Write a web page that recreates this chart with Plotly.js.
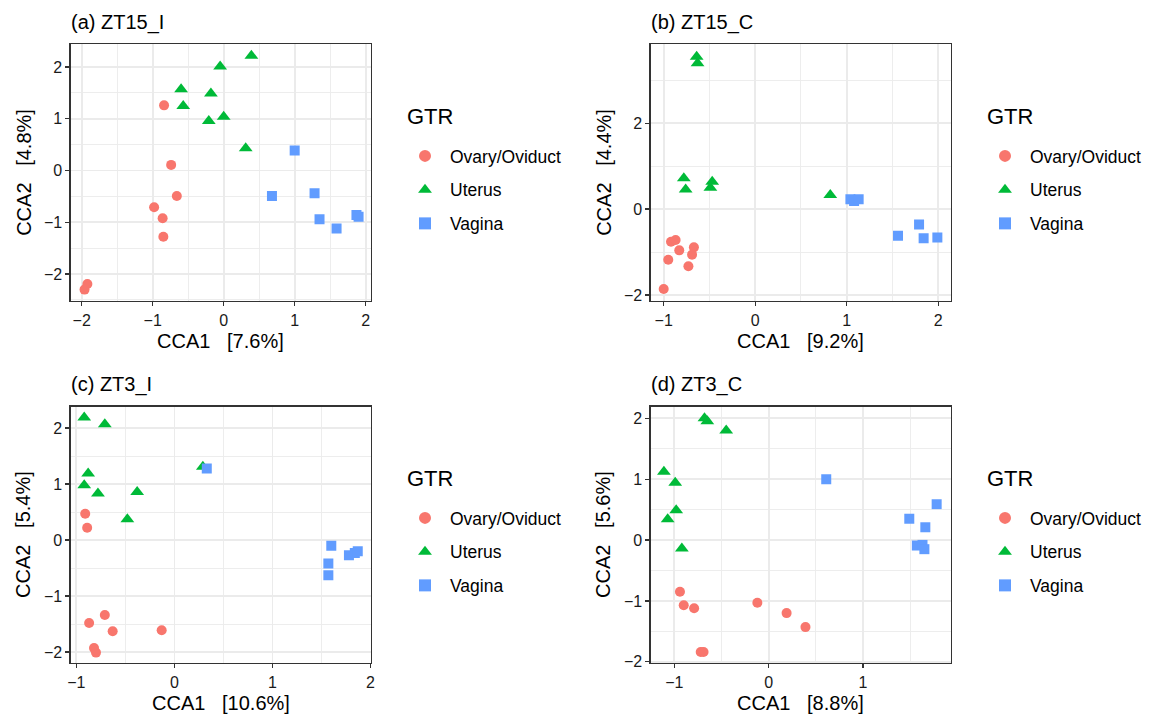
<!DOCTYPE html>
<html>
<head>
<meta charset="utf-8">
<script src="https://cdn.plot.ly/plotly-3.0.1.min.js"></script>
<style>
  html, body { margin: 0; padding: 0; background: #ffffff; }
  #chart { width: 1149px; height: 716px; }
</style>
</head>
<body>
<div id="chart"></div>
<script>
// Group labels shared by all four ordinations
const groups = ['Ovary/Oviduct', 'Uterus', 'Vagina'];
const legendTitle = 'GTR';

// Panel titles and axis labels
const panelTitles = ['(a) ZT15_I', '(b) ZT15_C', '(c) ZT3_I', '(d) ZT3_C'];
const xLabels = ['CCA1   [7.6%]', 'CCA1   [9.2%]', 'CCA1   [10.6%]', 'CCA1   [8.8%]'];
const yLabels = ['CCA2   [4.8%]', 'CCA2   [4.4%]', 'CCA2   [5.4%]', 'CCA2   [5.6%]'];

// (a) ZT15_I
const a_ovary_x  = [-0.84, -0.74, -0.66, -0.98, -0.86, -0.85, -1.92, -1.96];
const a_ovary_y  = [1.26, 0.11, -0.49, -0.71, -0.92, -1.28, -2.19, -2.30];
const a_uterus_x = [0.39, -0.05, -0.60, -0.18, -0.57, -0.21, 0.00, 0.31];
const a_uterus_y = [2.22, 2.01, 1.57, 1.49, 1.25, 0.96, 1.04, 0.43];
const a_vagina_x = [1.00, 0.68, 1.28, 1.35, 1.59, 1.87, 1.90];
const a_vagina_y = [0.39, -0.49, -0.44, -0.94, -1.12, -0.86, -0.89];

// (b) ZT15_C
const b_ovary_x  = [-1.00, -0.95, -0.92, -0.87, -0.83, -0.67, -0.69, -0.73];
const b_ovary_y  = [-1.86, -1.18, -0.76, -0.72, -0.96, -0.89, -1.06, -1.33];
const b_uterus_x = [-0.64, -0.63, -0.78, -0.76, -0.47, -0.49, 0.82];
const b_uterus_y = [3.55, 3.40, 0.72, 0.46, 0.64, 0.50, 0.33];
const b_vagina_x = [1.04, 1.08, 1.13, 1.56, 1.79, 1.84, 1.99];
const b_vagina_y = [0.23, 0.19, 0.23, -0.62, -0.36, -0.68, -0.66];

// (c) ZT3_I
const c_ovary_x  = [-0.91, -0.89, -0.71, -0.87, -0.63, -0.13, -0.82, -0.80];
const c_ovary_y  = [0.47, 0.22, -1.34, -1.48, -1.63, -1.61, -1.93, -2.01];
const c_uterus_x = [-0.92, -0.71, -0.88, -0.92, -0.78, -0.38, -0.48, 0.29];
const c_uterus_y = [2.19, 2.07, 1.19, 0.98, 0.83, 0.86, 0.37, 1.31];
const c_vagina_x = [0.33, 1.60, 1.57, 1.57, 1.78, 1.84, 1.87];
const c_vagina_y = [1.28, -0.10, -0.42, -0.63, -0.27, -0.23, -0.20];

// (d) ZT3_C
const d_ovary_x  = [-0.94, -0.90, -0.79, -0.12, 0.19, 0.39, -0.72, -0.69];
const d_ovary_y  = [-0.85, -1.07, -1.12, -1.03, -1.20, -1.43, -1.84, -1.84];
const d_uterus_x = [-0.68, -0.65, -0.45, -1.11, -0.99, -0.98, -1.07, -0.92];
const d_uterus_y = [2.00, 1.95, 1.80, 1.12, 0.94, 0.49, 0.34, -0.14];
const d_vagina_x = [0.61, 1.49, 1.78, 1.66, 1.57, 1.63, 1.65];
const d_vagina_y = [1.00, 0.35, 0.59, 0.21, -0.09, -0.08, -0.15];

const panelData = [
  [[a_ovary_x, a_ovary_y], [a_uterus_x, a_uterus_y], [a_vagina_x, a_vagina_y]],
  [[b_ovary_x, b_ovary_y], [b_uterus_x, b_uterus_y], [b_vagina_x, b_vagina_y]],
  [[c_ovary_x, c_ovary_y], [c_uterus_x, c_uterus_y], [c_vagina_x, c_vagina_y]],
  [[d_ovary_x, d_ovary_y], [d_uterus_x, d_uterus_y], [d_vagina_x, d_vagina_y]]
];

// ---- styling ----
const W = 1149, H = 716;
const FONT = 'Liberation Sans, Arial, Helvetica, sans-serif';
const groupStyle = [
  { color: '#F8766D', symbol: 'circle', size: 10 },
  { color: '#00BA38', symbol: 'triangle-up', size: 12 },
  { color: '#619CFF', symbol: 'square', size: 10 }
];

// Plot-area boxes in pixels: [left, right], [top, bottom]
const boxes = [
  { x: [70.7, 371], y: [44.3, 301] },
  { x: [650.7, 951], y: [44.3, 301] },
  { x: [70.7, 371], y: [406.5, 663] },
  { x: [650.7, 951], y: [406.5, 663] }
];
const ranges = [
  { x: [-2.155, 2.075], y: [-2.52, 2.44], ydt: 1 },
  { x: [-1.142, 2.139], y: [-2.14, 3.84], ydt: 2 },
  { x: [-1.058, 2.005], y: [-2.196, 2.386], ydt: 1 },
  { x: [-1.25, 1.932], y: [-2.02, 2.194], ydt: 1 }
];
// Legend anchor (left of key title, centre of key title) in pixels
const legendPos = [
  { x: 405, y: 116 },
  { x: 985, y: 116 },
  { x: 405, y: 478 },
  { x: 985, y: 478 }
];

const px = v => v / W;
const py = v => 1 - v / H;

function axis(range, domain, anchor, dtick) {
  return {
    range: range, domain: domain, anchor: anchor,
    tickmode: 'linear', tick0: 0, dtick: dtick,
    showgrid: true, gridcolor: '#EBEBEB', gridwidth: 1.8,
    zeroline: false,
    showline: true, mirror: true, linecolor: '#333333', linewidth: 1.3,
    ticks: 'outside', ticklen: 4, tickwidth: 1.3, tickcolor: '#333333',
    tickfont: { family: FONT, size: 16, color: '#1a1a1a' },
    minor: { dtick: dtick / 2, showgrid: true, gridcolor: '#EBEBEB', gridwidth: 0.9, ticks: '' },
    fixedrange: true
  };
}

const traces = [];
const layout = {
  width: W, height: H,
  margin: { l: 0, r: 0, t: 0, b: 0 },
  paper_bgcolor: '#ffffff', plot_bgcolor: '#ffffff',
  font: { family: FONT, color: '#000000' },
  annotations: [],
  showlegend: true
};

boxes.forEach((b, i) => {
  const n = i === 0 ? '' : String(i + 1);
  const xa = 'xaxis' + n, ya = 'yaxis' + n;
  const legName = 'legend' + n;
  layout[xa] = axis(ranges[i].x, [px(b.x[0]), px(b.x[1])], 'y' + n, 1);
  layout[ya] = axis(ranges[i].y, [py(b.y[1]), py(b.y[0])], 'x' + n, ranges[i].ydt);

  panelData[i].forEach((xy, g) => {
    traces.push({
      type: 'scatter', mode: 'markers',
      x: xy[0], y: xy[1],
      xaxis: 'x' + n, yaxis: 'y' + n,
      name: groups[g],
      legend: legName,
      legendgroup: 'p' + i + 'g' + g,
      marker: { color: groupStyle[g].color, symbol: groupStyle[g].symbol,
                size: groupStyle[g].size, line: { width: 0 } },
      hoverinfo: 'x+y+name'
    });
  });

  // key entries (the key title is drawn as an annotation above them)
  layout[legName] = {
    x: px(legendPos[i].x - 5), y: py(legendPos[i].y + 22),
    xanchor: 'left', yanchor: 'top',
    bgcolor: 'rgba(0,0,0,0)',
    font: { family: FONT, size: 17.5, color: '#000000' },
    tracegroupgap: 8,
    itemwidth: 40,
    itemsizing: 'constant'
  };
  layout.annotations.push({
    text: legendTitle, xref: 'paper', yref: 'paper',
    x: px(legendPos[i].x), y: py(legendPos[i].y), xanchor: 'left', yanchor: 'middle',
    showarrow: false, font: { family: FONT, size: 22, color: '#000000' }
  });

  const cx = (b.x[0] + b.x[1]) / 2, cy = (b.y[0] + b.y[1]) / 2;
  // panel title
  layout.annotations.push({
    text: panelTitles[i], xref: 'paper', yref: 'paper',
    x: px(b.x[0] - 2), y: py(b.y[0] - 22), xanchor: 'left', yanchor: 'middle',
    showarrow: false, font: { family: FONT, size: 20, color: '#000000' }
  });
  // x axis title
  layout.annotations.push({
    text: xLabels[i].replace(/ /g, '\u00a0'), xref: 'paper', yref: 'paper',
    x: px(cx), y: py(b.y[1] + 40), xanchor: 'center', yanchor: 'middle',
    showarrow: false, font: { family: FONT, size: 20, color: '#000000' }
  });
  // y axis title
  layout.annotations.push({
    text: yLabels[i].replace(/ /g, '\u00a0'), xref: 'paper', yref: 'paper',
    x: px(b.x[0] - 47.5), y: py(cy), xanchor: 'center', yanchor: 'middle',
    textangle: -90,
    showarrow: false, font: { family: FONT, size: 20, color: '#000000' }
  });
});

Plotly.newPlot('chart', traces, layout, { displayModeBar: false, staticPlot: true });
</script>
</body>
</html>
